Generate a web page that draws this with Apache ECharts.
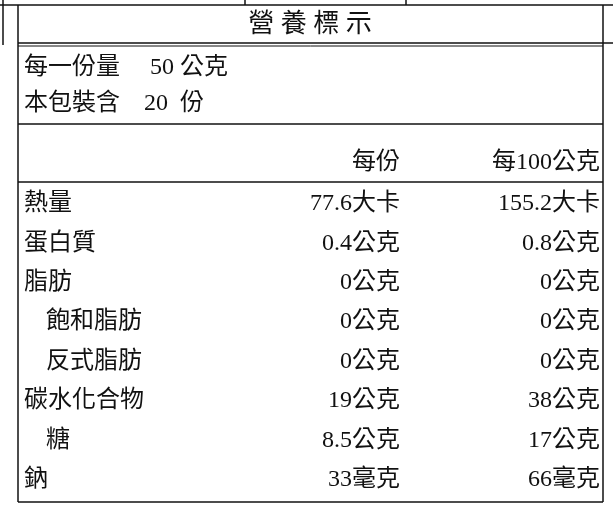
<!DOCTYPE html>
<html><head><meta charset="utf-8">
<script src="https://cdn.jsdelivr.net/npm/echarts@6/dist/echarts.min.js"></script>
<style>html,body{margin:0;padding:0;background:#fff}#c{width:613px;height:506px}</style>
</head><body><div id="c"></div>
<script>
const title = '營 養 標 示';
const servingLines = ['每一份量　 50 公克', '本包裝含　20  份'];
const headers = ['每份', '每100公克'];
const nutrients = ['熱量', '蛋白質', '脂肪', '飽和脂肪', '反式脂肪', '碳水化合物', '糖', '鈉'];
const indented = [false, false, false, true, true, false, true, false];
const perServing = ['77.6大卡', '0.4公克', '0公克', '0公克', '0公克', '19公克', '8.5公克', '33毫克'];
const per100g = ['155.2大卡', '0.8公克', '0公克', '0公克', '0公克', '38公克', '17公克', '66毫克'];

const font = '"Liberation Serif", "Noto Sans CJK TC", serif';
const ink = '#111';
const L = 18, R = 603;
const g = [];
function line(x1, y1, x2, y2, w) {
  g.push({ type: 'line', shape: { x1, y1, x2, y2 }, style: { stroke: ink, lineWidth: w || 1.5 } });
}
function txt(x, y, s, align, size) {
  g.push({ type: 'text', x, y, style: { text: s, fill: ink, font: (size || 24) + 'px ' + font, textAlign: align || 'left', textVerticalAlign: 'middle' } });
}
// frame
line(0, 5, 613, 5); line(245, 0, 245, 5); line(406, 0, 406, 5);
line(3, 0, 3, 45);
line(L, 5, L, 502); line(R, 5, R, 502);
line(L, 43, 613, 43); line(L, 46, R, 46, 1);
line(L, 124, R, 124); line(L, 182, R, 182);
line(L, 502, R, 502);
txt(310, 25, title, 'center', 26);
servingLines.forEach((s, i) => txt(24, 68 + i * 36, s));
txt(400, 163, headers[0], 'right');
txt(600, 163, headers[1], 'right');
nutrients.forEach((n, i) => {
  const y = 204 + i * 39.4;
  txt(indented[i] ? 46 : 24, y, n);
  txt(400, y, perServing[i], 'right');
  txt(600, y, per100g[i], 'right');
});
const chart = echarts.init(document.getElementById('c'));
chart.setOption({ animation: false, graphic: { elements: g } });
</script></body></html>
